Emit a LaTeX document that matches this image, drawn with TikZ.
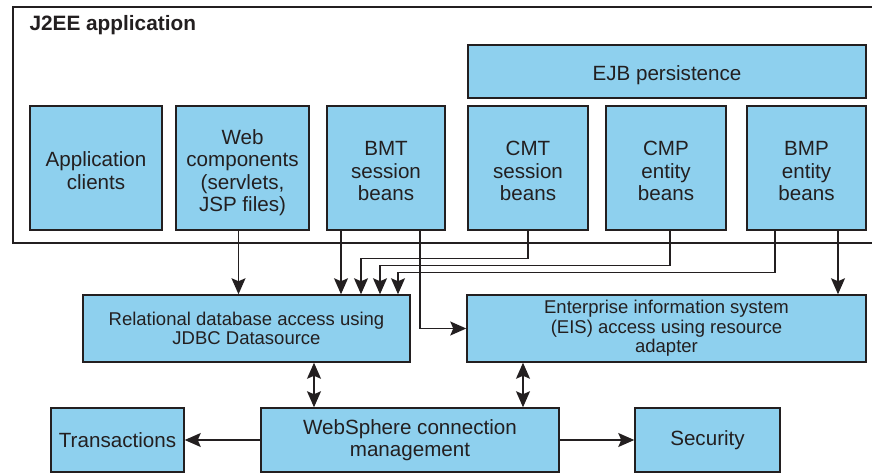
\documentclass[tikz,border=0pt]{standalone}
\usepackage{fontspec}
\setmainfont{Liberation Sans}
\usetikzlibrary{arrows.meta}
\definecolor{boxblue}{RGB}{142,208,238}
\definecolor{ink}{RGB}{35,31,32}
% set text lower in its box by twice #1
\newcommand{\dropby}[2]{\raisebox{-#1}[\dimexpr\height+#1\relax][\dimexpr\depth-#1\relax]{\begin{tabular}{@{}c@{}}#2\end{tabular}}}

\begin{document}
\begin{tikzpicture}[x=1pt, y=-1pt,
box/.style = {draw=ink, line width=1.5pt, fill=boxblue, text=ink,
            align=center, inner sep=0pt, minimum width=#1},
box/.default = 120pt,  % width of the box
big/.style = {font=\fontsize{20.6}{22.6}\selectfont},
small/.style = {font=\fontsize{18.5}{19.6}\selectfont},
arr/.style = {draw=ink, line width=1.3pt, -{Stealth[length=16pt, width=14pt, inset=3pt]}},
both/.style = {draw=ink, line width=1.3pt, {Stealth[length=16pt, width=14pt, inset=3pt]}-{Stealth[length=16pt, width=14pt, inset=3pt]}}
                ]
    \useasboundingbox (0,0) rectangle (872,473);

    % J2EE application frame
    \draw [ink, line width=1.4pt] (872,7) -- (13,7) -- (13,243) -- (872,243);
    \node[anchor=base west, text=ink, font=\bfseries\fontsize{20.8}{22}\selectfont] at (26,31) (title) {J2EE application};

    % components
    \foreach \x/\w/\n/\t in {96/132/app/{Application\\clients},
                             242.5/133/web/{Web\\components\\(servlets,\\JSP files)},
                             386/118/bmt/{BMT\\session\\beans},
                             528/120/cmt/{CMT\\session\\beans},
                             666/120/cmp/{CMP\\entity\\beans},
                             806.5/119/bmp/{BMP\\entity\\beans}}
        \node[box=\w pt, big, minimum height=124pt] at (\x,168) (\n) {\dropby{2.75pt}{\t}};
    \node[box=398pt, big, minimum height=53pt] at (667,71.5) (ejb) {\dropby{2pt}{EJB persistence}};

    % resource access
    \node[box=327pt, small, minimum height=67pt] at (246.5,328.5) (rel) {Relational database access using\\JDBC Datasource};
    \node[box=399pt, small, minimum height=67pt] at (666.5,328.5) (eis) {Enterprise information system\\(EIS) access using resource\\adapter};

    % connection management
    \node[box=133pt, big, minimum height=64pt] at (117.5,440) (tr) {Transactions};
    \node[box=298pt, big, minimum height=64pt] at (410,440) (ws) {WebSphere connection\\management};
    \node[box=145pt, big, minimum height=64pt] at (707.5,440) (sec) {Security};

    \draw [arr] ([xshift=-4pt]web.south) -- ([xshift=-4pt]web.south |- rel.north);
    \draw [arr] ([xshift=-45pt]bmt.south) -- ([xshift=-45pt]bmt.south |- rel.north);
    \draw [arr] ([xshift=34pt]bmt.south) |- (eis.west);
    \draw [arr] (cmt.south) -- ++(0,28) -| ([xshift=114.5pt]rel.north);
    \draw [arr] ([xshift=4pt]cmp.south) -- ++(0,35) -| ([xshift=133.5pt]rel.north);
    \draw [arr] ([xshift=-31.5pt]bmp.south) -- ++(0,42) -| ([xshift=151.5pt]rel.north);
    \draw [arr] ([xshift=31.5pt]bmp.south) -- ([xshift=31.5pt]bmp.south |- eis.north);
    \draw [both] ([xshift=67.5pt]rel.south) -- ([xshift=67.5pt]rel.south |- ws.north);
    \draw [both] ([xshift=-143.5pt]eis.south) -- ([xshift=-143.5pt]eis.south |- ws.north);
    \draw [arr] (ws.west) -- (tr.east);
    \draw [arr] (ws.east) -- (sec.west);
\end{tikzpicture}
\end{document}
